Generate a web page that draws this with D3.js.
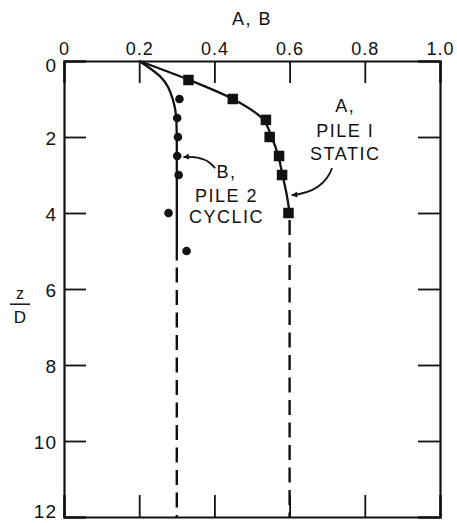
<!DOCTYPE html>
<html>
<head>
<meta charset="utf-8">
<script src="https://cdn.jsdelivr.net/npm/d3@7"></script>
<style>
  html, body { margin: 0; padding: 0; background: #fff; }
  svg { display: block; }
  text { font-family: "Liberation Sans", Arial, sans-serif; fill: #111; }
</style>
</head>
<body>
<svg id="chart" width="457" height="523"></svg>
<script>
// Depth profiles of A and B against normalised depth z/D
const xTicks = [0, 0.2, 0.4, 0.6, 0.8, 1.0];
const xTickLabels = ["0", "0.2", "0.4", "0.6", "0.8", "1.0"];
const yTicks = [0, 2, 4, 6, 8, 10, 12];

// Pile 1, static test: measured A (squares)
const staticZ = [0.5, 1.0, 1.55, 2.0, 2.5, 3.0, 4.0];
const staticA = [0.331, 0.449, 0.537, 0.547, 0.572, 0.580, 0.597];

// Pile 2, cyclic test: measured B (dots)
const cyclicZ = [1.0, 1.5, 2.0, 2.5, 3.0, 4.0, 5.0];
const cyclicB = [0.307, 0.301, 0.303, 0.301, 0.305, 0.278, 0.326];

// Fitted curves (solid) and their extrapolation (dashed)
const curveAZ = [0, 0.48, 1.0, 1.5, 2.0, 2.5, 3.0, 3.5, 4.0];
const curveAV = [0.2, 0.328, 0.449, 0.526, 0.552, 0.570, 0.581, 0.592, 0.6];
const dashAZ = [4.0, 12];
const dashAV = [0.6, 0.6];

const curveBZ = [0, 0.4, 1.0, 1.6, 2.2, 5.25];
const curveBV = [0.2, 0.255, 0.289, 0.299, 0.3, 0.3];
const dashBZ = [5.25, 12];
const dashBV = [0.3, 0.3];

const svg = d3.select("#chart");
const padL = 64, padR = 440, padT = 61, padB = 517;

const x = d3.scaleLinear().domain([0, 1]).range([padL, padR]);
const y = d3.scaleLinear().domain([0, 12]).range([padT, padB]);

const ink = "#111";

// Frame with inward ticks on all four sides
const axTop = d3.axisTop(x).tickValues(xTicks).tickSize(-22).tickPadding(6)
  .tickFormat((d, i) => xTickLabels[i]);
const axBottom = d3.axisBottom(x).tickValues(xTicks).tickSize(-22).tickFormat("");
const axLeft = d3.axisLeft(y).tickValues(yTicks).tickSize(-22).tickPadding(7);
const axRight = d3.axisRight(y).tickValues(yTicks).tickSize(-22).tickFormat("");

function styleAxis(g) {
  g.select(".domain").attr("stroke", ink).attr("stroke-width", 2.2);
  g.selectAll(".tick line").attr("stroke", ink).attr("stroke-width", 1.8);
  g.selectAll(".tick text").attr("fill", ink)
    .style("font-family", "'Liberation Sans', Arial, sans-serif")
    .style("font-size", "18px").style("letter-spacing", "1px");
}

svg.append("g").attr("transform", `translate(0,${padT})`).call(axTop).call(styleAxis);
svg.append("g").attr("transform", `translate(0,${padB})`).call(axBottom).call(styleAxis);
// End labels sit slightly inside the frame so they stay clear of the corners
const yLabelShift = d => (d === 0 ? 4 : d === 12 ? -6 : 1);
svg.append("g").attr("transform", `translate(${padL},0)`).call(axLeft).call(styleAxis)
  .selectAll(".tick text").attr("dy", "0.35em")
  .attr("y", d => yLabelShift(d)).style("font-size", "19px");
svg.append("g").attr("transform", `translate(${padR},0)`).call(axRight).call(styleAxis);

// Axis titles
svg.append("text").attr("x", (padL + padR) / 2).attr("y", 25)
  .attr("text-anchor", "middle").style("font-size", "18px").style("letter-spacing", "1.5px")
  .text("A, B");
const zx = 20, zy = y(6.4);
svg.append("text").attr("x", zx).attr("y", zy - 5).attr("text-anchor", "middle")
  .style("font-size", "16px").text("z");
svg.append("line").attr("x1", zx - 10).attr("x2", zx + 10).attr("y1", zy).attr("y2", zy)
  .attr("stroke", ink).attr("stroke-width", 1.5);
svg.append("text").attr("x", zx).attr("y", zy + 19).attr("text-anchor", "middle")
  .style("font-size", "17px").text("D");

// Curves
const line = d3.line().x(d => x(d[0])).y(d => y(d[1])).curve(d3.curveMonotoneY);
const zipped = (v, z) => v.map((d, i) => [d, z[i]]);

svg.append("path").datum(zipped(curveAV, curveAZ)).attr("d", line)
  .attr("fill", "none").attr("stroke", ink).attr("stroke-width", 2.3);
svg.append("path").datum(zipped(curveBV, curveBZ)).attr("d", line)
  .attr("fill", "none").attr("stroke", ink).attr("stroke-width", 2.3);

const straight = d3.line().x(d => x(d[0])).y(d => y(d[1]));
[[dashAV, dashAZ], [dashBV, dashBZ]].forEach(([v, z]) => {
  svg.append("path").datum(zipped(v, z)).attr("d", straight)
    .attr("fill", "none").attr("stroke", ink).attr("stroke-width", 2.4)
    .attr("stroke-dasharray", "15,7.5").attr("stroke-dashoffset", -7);
});

// Measured points
const sq = 10.5;
svg.append("g").selectAll("rect").data(zipped(staticA, staticZ)).join("rect")
  .attr("x", d => x(d[0]) - sq / 2).attr("y", d => y(d[1]) - sq / 2)
  .attr("width", sq).attr("height", sq).attr("fill", ink);
svg.append("g").selectAll("circle").data(zipped(cyclicB, cyclicZ)).join("circle")
  .attr("cx", d => x(d[0])).attr("cy", d => y(d[1])).attr("r", 4.3).attr("fill", ink);

// Labels with leader arrows
svg.append("defs").append("marker").attr("id", "head")
  .attr("viewBox", "0 0 10 10").attr("refX", 9).attr("refY", 5)
  .attr("markerWidth", 8).attr("markerHeight", 6).attr("markerUnits", "userSpaceOnUse")
  .attr("orient", "auto")
  .append("path").attr("d", "M0,0 L10,5 L0,10 Z").attr("fill", ink);

function leader(from, ctrl, to) {
  const p = d3.path();
  p.moveTo(x(from[0]), y(from[1]));
  p.quadraticCurveTo(x(ctrl[0]), y(ctrl[1]), x(to[0]), y(to[1]));
  svg.append("path").attr("d", p.toString()).attr("fill", "none")
    .attr("stroke", ink).attr("stroke-width", 1.7).attr("marker-end", "url(#head)");
}

function label(lines, cx, zs) {
  lines.forEach((t, i) => {
    svg.append("text").attr("x", x(cx)).attr("y", y(zs[i]))
      .attr("text-anchor", "middle").style("font-size", "18px")
      .style("letter-spacing", "1.5px").text(t);
  });
}

label(["A,", "PILE I", "STATIC"], 0.748, [1.34, 2.0, 2.6]);
leader([0.713, 2.82], [0.69, 3.45], [0.606, 3.53]);

label(["B,", "PILE 2", "CYCLIC"], 0.432, [3.08, 3.71, 4.26]);
leader([0.402, 2.82], [0.375, 2.47], [0.318, 2.53]);
</script>
</body>
</html>
